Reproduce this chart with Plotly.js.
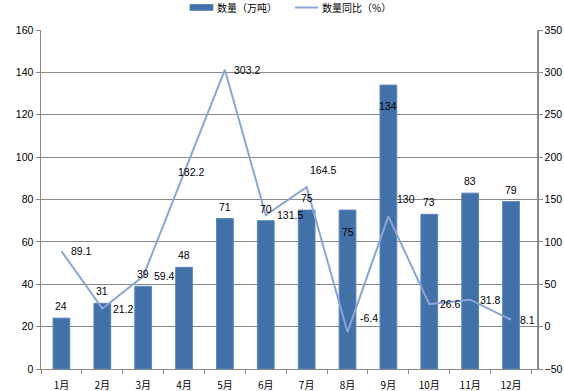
<!DOCTYPE html>
<html><head><meta charset="utf-8">
<script src="https://cdn.plot.ly/plotly-3.0.1.min.js"></script>
<style>html,body{margin:0;padding:0;background:#fff}#chart{width:564px;height:391px}</style>
</head><body><div id="chart"></div>
<script>
const months = ['1月','2月','3月','4月','5月','6月','7月','8月','9月','10月','11月','12月'];
const quantity = [24,31,39,48,71,70,75,75,134,73,83,79];
const yoy = [89.1,21.2,59.4,182.2,303.2,131.5,164.5,-6.4,130,26.6,31.8,8.1];
const seriesNames = ['数量（万吨）','数量同比（%）'];
const leftTicks = [0,20,40,60,80,100,120,140,160];
const rightTicks = [-50,0,50,100,150,200,250,300,350];

// label offsets in pixels (style only)
const barShiftY = [12,12,12,12,12,12,12,-22,-21,12,12,12];
const lineShiftX = [8,9,9,7,7,9,1,10,7,9,8,7];
const lineShiftY = [0,0,0,0,0,0,17,14,17,0,0,0];
const lineAnchor = ['left','left','left','center','left','left','left','left','left','left','left','left'];

const barColor = '#4270a9', lineColor = '#8aa6d6';
const f = {family:'Liberation Sans, Arial, sans-serif', size:10.5, color:'#000'};
const cjk = {family:'Noto Sans CJK SC, sans-serif', size:10, color:'#000'};
const annotations = [];
quantity.forEach((v,i)=>annotations.push({x:months[i], y:v, xref:'x', yref:'y', text:String(v), showarrow:false,
  xanchor:'center', yanchor:'middle', yshift:barShiftY[i], font:f}));
yoy.forEach((v,i)=>annotations.push({x:months[i], y:v, xref:'x', yref:'y2', text:String(v), showarrow:false,
  xanchor:lineAnchor[i], yanchor:'middle', xshift:lineShiftX[i], yshift:lineShiftY[i], font:f}));
// custom legend (paper coords)
annotations.push({xref:'paper', yref:'paper', x:0.3508, y:1.0664, xanchor:'left', yanchor:'middle', text:seriesNames[0], showarrow:false, font:cjk});
annotations.push({xref:'paper', yref:'paper', x:0.5625, y:1.0664, xanchor:'left', yanchor:'middle', text:seriesNames[1], showarrow:false, font:cjk});
const shapes = [
 {type:'rect', xref:'paper', yref:'paper', x0:0.3004, x1:0.3468, y0:1.058, y1:1.0752, fillcolor:barColor, line:{color:'#5b86bd', width:1}},
 {type:'line', xref:'paper', yref:'paper', x0:0.5121, x1:0.5585, y0:1.0664, y1:1.0664, line:{color:lineColor, width:2}}
];

const data = [
 {type:'bar', x:months, y:quantity, name:seriesNames[0], marker:{color:barColor, line:{color:'#5b86bd', width:1}}, hoverinfo:'none'},
 {type:'scatter', mode:'lines', x:months, y:yoy, yaxis:'y2', name:seriesNames[1],
  line:{color:lineColor, width:2}, cliponaxis:false, hoverinfo:'none'}
];
const layout = {
 width:564, height:391, margin:{l:41,r:27,t:30,b:22}, paper_bgcolor:'#fff', plot_bgcolor:'#fff',
 font:f, bargap:0.59, showlegend:false, annotations:annotations, shapes:shapes,
 xaxis:{type:'category', tickvals:months, ticktext:months, tickson:'boundaries', ticks:'outside', ticklen:4, tickcolor:'#888',
   showline:true, linecolor:'#888', linewidth:1, showgrid:false, ticklabelstandoff:7, tickfont:cjk, zeroline:false, automargin:false},
 yaxis:{range:[0,160], tickvals:leftTicks, ticks:'outside', ticklen:4, tickcolor:'#888', showline:true, linecolor:'#888', linewidth:1.5,
   showgrid:true, gridcolor:'#888', gridwidth:1, zeroline:false, tickfont:f, automargin:false},
 yaxis2:{range:[-50,350], tickvals:rightTicks, overlaying:'y', side:'right', ticks:'outside', ticklen:4, tickcolor:'#888', showline:true, linecolor:'#888', linewidth:1.5,
   showgrid:false, zeroline:false, tickfont:f, automargin:false}
};
Plotly.newPlot('chart', data, layout, {staticPlot:true, displayModeBar:false});
</script></body></html>
